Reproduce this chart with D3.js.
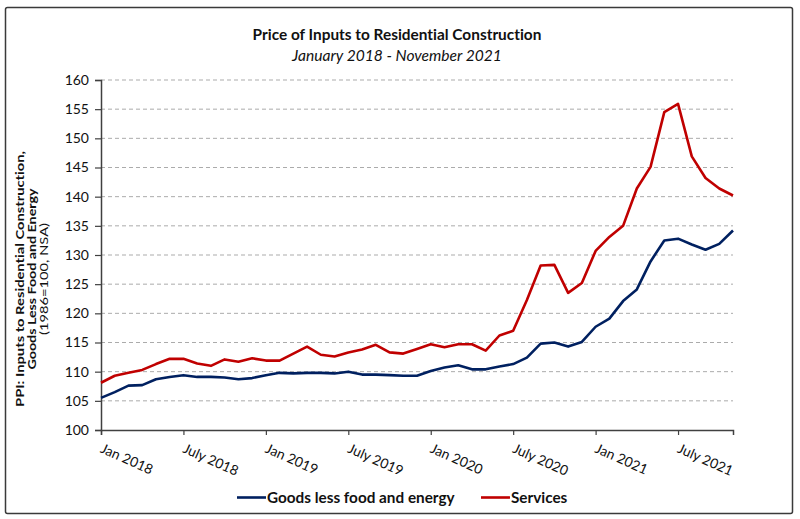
<!DOCTYPE html>
<html>
<head>
<meta charset="utf-8">
<script src="https://cdn.jsdelivr.net/npm/d3@7"></script>
<style>
  html, body { margin: 0; padding: 0; background: #fff; }
  svg { display: block; font-family: Lato, "Open Sans", sans-serif; font-variant-ligatures: none; }
</style>
</head>
<body>
<svg id="chart" width="800" height="519"></svg>
<script>
// ---- Data ----
const months = d3.range(47); // Jan 2018 .. Nov 2021
const tickIndices = [0, 6, 12, 18, 24, 30, 36, 42];
const tickLabels = ["Jan 2018", "July 2018", "Jan 2019", "July 2019", "Jan 2020", "July 2020", "Jan 2021", "July 2021"];
const yTicks = [100, 105, 110, 115, 120, 125, 130, 135, 140, 145, 150, 155, 160];
const goods = [105.5,106.5,107.6,107.7,108.7,109.1,109.4,109.1,109.1,109.0,108.7,108.9,
               109.4,109.8,109.7,109.8,109.8,109.7,110.0,109.5,109.5,109.4,109.3,109.3,
               110.1,110.7,111.1,110.4,110.4,110.9,111.3,112.4,114.8,115.0,114.3,115.1,
               117.7,119.1,122.1,124.1,128.9,132.5,132.8,131.8,130.9,131.9,134.2];
const services = [108.1,109.3,109.8,110.3,111.3,112.2,112.2,111.4,111.0,112.1,111.7,112.3,
                  111.9,111.9,113.1,114.3,112.9,112.6,113.3,113.8,114.6,113.3,113.1,113.9,
                  114.7,114.2,114.7,114.7,113.6,116.2,117.0,122.3,128.2,128.3,123.5,125.2,
                  130.7,133.1,135.0,141.4,145.1,154.5,155.9,146.9,143.2,141.4,140.2];
const seriesNames = ["Goods less food and energy", "Services"];
const seriesColors = ["#002060", "#C00000"];

const svg = d3.select("#chart");

// outer frame
svg.append("rect").attr("x", 5.5).attr("y", 7.5).attr("width", 787).attr("height", 506)
  .attr("rx", 2).attr("fill", "#fff").attr("stroke", "#3a3a3a").attr("stroke-width", 1.5);

const x = d3.scaleLinear().domain([0, 46]).range([101, 733]);
const y = d3.scaleLinear().domain([100, 160]).range([430, 80]);

// titles
svg.append("text").attr("x", 397).attr("y", 40).attr("text-anchor", "middle")
  .attr("font-weight", "bold").attr("font-size", 15.4).attr("fill", "#111")
  .text("Price of Inputs to Residential Construction");
svg.append("text").attr("x", 397).attr("y", 61).attr("text-anchor", "middle")
  .attr("font-style", "italic").attr("font-size", 15.6).attr("fill", "#111")
  .text("January 2018 - November 2021");

// gridlines
svg.append("g").selectAll("line").data(yTicks.filter(d => d > 100)).join("line")
  .attr("x1", x(0)).attr("x2", x(46)).attr("y1", d => y(d)).attr("y2", d => y(d))
  .attr("stroke", "#ababab").attr("stroke-width", 1).attr("stroke-dasharray", "4,3");

// y axis
const yAxis = svg.append("g").attr("transform", `translate(${x(0)},0)`)
  .call(d3.axisLeft(y).tickValues(yTicks).tickSize(6).tickPadding(6).tickFormat(d3.format("d")));
yAxis.select(".domain").attr("stroke", "#404040").attr("stroke-width", 1.5);
yAxis.selectAll(".tick line").attr("stroke", "#404040").attr("stroke-width", 1.2);
yAxis.selectAll(".tick text").attr("font-size", 14).attr("font-family", "Lato, sans-serif").attr("fill", "#111");

// x axis
const xAxis = svg.append("g").attr("transform", `translate(0,${y(100)})`)
  .call(d3.axisBottom(x).tickValues(tickIndices).tickSize(5).tickFormat((d, i) => tickLabels[i]));
xAxis.select(".domain").attr("stroke", "#404040").attr("stroke-width", 1.5);
xAxis.selectAll(".tick line").attr("stroke", "#404040").attr("stroke-width", 1.2);
xAxis.selectAll(".tick text")
  .attr("font-size", 13.8).attr("font-family", "Lato, sans-serif").attr("fill", "#111")
  .attr("text-anchor", "start").attr("dy", null)
  .attr("transform", "translate(-2,22) rotate(24)").attr("y", 0).attr("x", 0);

// y axis title
const yt = svg.append("g").attr("transform", "translate(0,279) rotate(-90)");
yt.append("text").attr("x", 0).attr("y", 23.5).attr("text-anchor", "middle")
  .attr("font-weight", "bold").attr("font-size", 11.5).attr("fill", "#111")
  .attr("textLength", 256).attr("lengthAdjust", "spacingAndGlyphs")
  .text("PPI: Inputs to Residential Construction,");
yt.append("text").attr("x", 0).attr("y", 36).attr("text-anchor", "middle")
  .attr("font-weight", "bold").attr("font-size", 11.5).attr("fill", "#111")
  .attr("textLength", 181).attr("lengthAdjust", "spacingAndGlyphs")
  .text("Goods Less Food and Energy");
yt.append("text").attr("x", 0).attr("y", 48).attr("text-anchor", "middle")
  .attr("font-size", 11).attr("fill", "#111")
  .attr("textLength", 112).attr("lengthAdjust", "spacingAndGlyphs")
  .text("(1986=100, NSA)");

// lines
const line = d3.line().x((d, i) => x(months[i])).y(d => y(d));
[goods, services].forEach((s, k) => {
  svg.append("path").datum(s).attr("d", line).attr("fill", "none")
    .attr("stroke", seriesColors[k]).attr("stroke-width", 2.6).attr("stroke-linejoin", "round");
});

// legend
const legendX = [237, 481];
seriesNames.forEach((n, k) => {
  const g = svg.append("g").attr("transform", `translate(${legendX[k]},497.5)`);
  g.append("line").attr("x1", 0).attr("x2", 29).attr("y1", 0).attr("y2", 0)
    .attr("stroke", seriesColors[k]).attr("stroke-width", 2.6);
  g.append("text").attr("x", 30).attr("y", 5.5).attr("font-weight", "bold").attr("font-size", 15.3)
    .attr("fill", "#111").text(n);
});
</script>
</body>
</html>
